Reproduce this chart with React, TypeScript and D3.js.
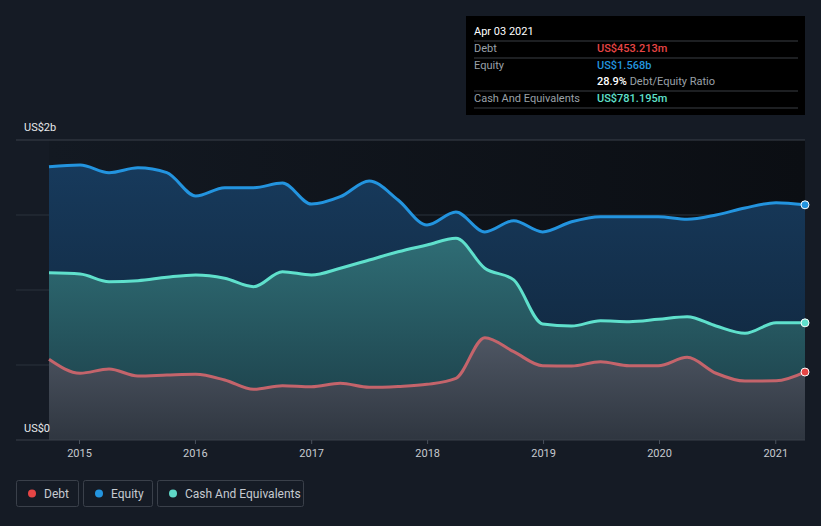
import * as d3 from "d3";
import { useEffect, useRef } from "react";

const dates = [
  "2014-09-27", "2015-01-03", "2015-04-04", "2015-07-04", "2015-10-03",
  "2016-01-02", "2016-04-02", "2016-07-02", "2016-10-01", "2016-12-31",
  "2017-04-01", "2017-07-01", "2017-09-30", "2017-12-30", "2018-03-31",
  "2018-06-30", "2018-09-29", "2018-12-29", "2019-03-30", "2019-06-29",
  "2019-09-28", "2019-12-28", "2020-03-28", "2020-06-27", "2020-09-26",
  "2021-01-02", "2021-04-03",
];

// values in US$ billions
const equity = [
  1.822, 1.833, 1.782, 1.815, 1.782, 1.627, 1.682, 1.682, 1.713, 1.573,
  1.622, 1.727, 1.6, 1.433, 1.52, 1.387, 1.462, 1.387, 1.455, 1.489,
  1.489, 1.489, 1.471, 1.5, 1.547, 1.582, 1.568,
];
const cash = [
  1.115, 1.107, 1.055, 1.062, 1.085, 1.1, 1.078, 1.022, 1.122, 1.1,
  1.145, 1.2, 1.255, 1.3, 1.345, 1.145, 1.067, 0.773, 0.76, 0.795,
  0.789, 0.805, 0.822, 0.76, 0.711, 0.782, 0.781,
];
const debt = [
  0.538, 0.445, 0.473, 0.427, 0.433, 0.438, 0.4, 0.338, 0.362, 0.355,
  0.378, 0.351, 0.357, 0.371, 0.411, 0.682, 0.589, 0.495, 0.493, 0.522,
  0.495, 0.495, 0.551, 0.445, 0.393, 0.395, 0.453,
];

const yearTicks = [2015, 2016, 2017, 2018, 2019, 2020, 2021];

const W = 821;
const H = 526;

export default function App() {
  const svgRef = useRef<SVGSVGElement>(null);

  useEffect(() => {
    document.body.style.margin = "0";
    if (!svgRef.current) return;
    const svg = d3.select(svgRef.current);
    svg.selectAll("*").remove();

    const parse = d3.timeParse("%Y-%m-%d");
    const xs = dates.map((d) => parse(d) as Date);

    const left = 16;
    const right = 805;
    const top = 140;
    const bottom = 440;

    const x = d3
      .scaleTime()
      .domain([new Date(2014, 8, 27), new Date(2021, 3, 3)])
      .range([49, 805]);
    const y = d3.scaleLinear().domain([0, 2]).range([bottom, top]);

    const font = "Roboto, 'Noto Sans', sans-serif";

    svg.append("rect").attr("width", W).attr("height", H).attr("fill", "#151b25");

    const defs = svg.append("defs");
    const bg = defs.append("linearGradient").attr("id", "bg").attr("x1", "0%").attr("x2", "100%");
    bg.append("stop").attr("offset", "0%").attr("stop-color", "#131922");
    bg.append("stop").attr("offset", "100%").attr("stop-color", "#0b0e13");

    const grad = (id: string, c1: string, c2: string) => {
      const g = defs.append("linearGradient").attr("id", id).attr("x1", "0%").attr("x2", "0%").attr("y1", "0%").attr("y2", "100%");
      g.append("stop").attr("offset", "0%").attr("stop-color", c1);
      g.append("stop").attr("offset", "100%").attr("stop-color", c2);
    };
    grad("eqFill", "#173a5c", "#0f2236");
    grad("cashFill", "#2f6d75", "#1a3a44");
    grad("debtFill", "#4e5663", "#2f3640");

    svg
      .append("rect")
      .attr("x", x(xs[0]))
      .attr("y", top)
      .attr("width", right - x(xs[0]))
      .attr("height", bottom - top)
      .attr("fill", "url(#bg)");

    // gridlines
    const gridVals = [0.5, 1, 1.5, 2];
    svg
      .append("g")
      .selectAll("line")
      .data(gridVals)
      .enter()
      .append("line")
      .attr("x1", left)
      .attr("x2", right)
      .attr("y1", (d) => y(d))
      .attr("y2", (d) => y(d))
      .attr("stroke", (d) => (d === 2 ? "#3b414b" : "#2a323d"))
      .attr("stroke-width", 1);

    const series = [
      { key: "equity", vals: equity, line: "#2394df", fill: "url(#eqFill)", dot: "#2394df" },
      { key: "cash", vals: cash, line: "#5fe0cc", fill: "url(#cashFill)", dot: "#5fe0cc" },
      { key: "debt", vals: debt, line: "#c4646b", fill: "url(#debtFill)", dot: "#e64545" },
    ];

    series.forEach((s) => {
      const pts = s.vals.map((v, i) => [xs[i], v] as [Date, number]);
      const area = d3
        .area<[Date, number]>()
        .x((d) => x(d[0]))
        .y0(y(0))
        .y1((d) => y(d[1]))
        .curve(d3.curveMonotoneX);
      svg.append("path").datum(pts).attr("d", area).attr("fill", s.fill);
    });

    series.forEach((s) => {
      const pts = s.vals.map((v, i) => [xs[i], v] as [Date, number]);
      const line = d3
        .line<[Date, number]>()
        .x((d) => x(d[0]))
        .y((d) => y(d[1]))
        .curve(d3.curveMonotoneX);
      svg
        .append("path")
        .datum(pts)
        .attr("d", line)
        .attr("fill", "none")
        .attr("stroke", s.line)
        .attr("stroke-width", 3);
    });

    series.forEach((s) => {
      const last = s.vals.length - 1;
      svg
        .append("circle")
        .attr("cx", x(xs[last]))
        .attr("cy", y(s.vals[last]))
        .attr("r", 4)
        .attr("fill", s.dot)
        .attr("stroke", "#ffffff")
        .attr("stroke-width", 1);
    });

    // bottom axis line
    svg
      .append("line")
      .attr("x1", left)
      .attr("x2", right)
      .attr("y1", bottom)
      .attr("y2", bottom)
      .attr("stroke", "#3b414b");

    const ax = svg.append("g");
    yearTicks.forEach((yr) => {
      const tx = x(new Date(yr, 0, 1));
      ax.append("line")
        .attr("x1", tx)
        .attr("x2", tx)
        .attr("y1", bottom)
        .attr("y2", bottom + 4)
        .attr("stroke", "#4a515c");
      ax.append("text")
        .attr("x", tx)
        .attr("y", bottom + 17)
        .attr("text-anchor", "middle")
        .attr("fill", "#c6cad0")
        .style("font-family", font)
        .style("font-size", "11px")
        .text(String(yr));
    });

    svg.append("text").attr("x", 24).attr("y", 131).attr("fill", "#e6e8eb")
      .style("font-family", font).style("font-size", "11px").text("US$2b");
    svg.append("text").attr("x", 24).attr("y", 432).attr("fill", "#e6e8eb")
      .style("font-family", font).style("font-size", "11px").text("US$0");

    // tooltip
    const tip = svg.append("g").attr("transform", "translate(466,16)");
    tip.append("rect").attr("width", 339).attr("height", 99).attr("fill", "#000000");
    const tt = (tx: number, ty: number, t: string, c: string, w = 400) =>
      tip.append("text").attr("x", tx).attr("y", ty).attr("fill", c)
        .style("font-family", font).style("font-size", "11px").style("font-weight", w).text(t);
    tt(8, 19, "Apr 03 2021", "#ffffff");
    [25, 42, 75, 92].forEach((ly) =>
      tip.append("line").attr("x1", 8).attr("x2", 332).attr("y1", ly).attr("y2", ly).attr("stroke", "#3a3e44"),
    );
    tt(8, 36, "Debt", "#9aa0a8");
    tt(131, 36, "US$453.213m", "#e64545", 500);
    tt(8, 53, "Equity", "#9aa0a8");
    tt(131, 53, "US$1.568b", "#2394df", 500);
    const r = tt(131, 69, "28.9%", "#ffffff", 500);
    r.append("tspan").attr("fill", "#9aa0a8").style("font-weight", 400).text(" Debt/Equity Ratio");
    tt(8, 86, "Cash And Equivalents", "#9aa0a8");
    tt(131, 86, "US$781.195m", "#5fe0cc", 500);

    // legend
    const legend = [
      { label: "Debt", color: "#e64545", x: 16, w: 62 },
      { label: "Equity", color: "#2394df", x: 83, w: 69 },
      { label: "Cash And Equivalents", color: "#5fd8c8", x: 157, w: 146 },
    ];
    legend.forEach((l) => {
      const g = svg.append("g").attr("transform", `translate(${l.x},480)`);
      g.append("rect").attr("x", 0.5).attr("y", 0.5).attr("width", l.w).attr("height", 26)
        .attr("rx", 2).attr("fill", "none").attr("stroke", "#3a404a");
      g.append("circle").attr("cx", 16).attr("cy", 13.5).attr("r", 4).attr("fill", l.color);
      g.append("text").attr("x", 28).attr("y", 17.5).attr("fill", "#c6cad0")
        .style("font-family", font).style("font-size", "12px").text(l.label);
    });
  }, []);

  return <svg ref={svgRef} width={W} height={H} style={{ display: "block" }} />;
}
